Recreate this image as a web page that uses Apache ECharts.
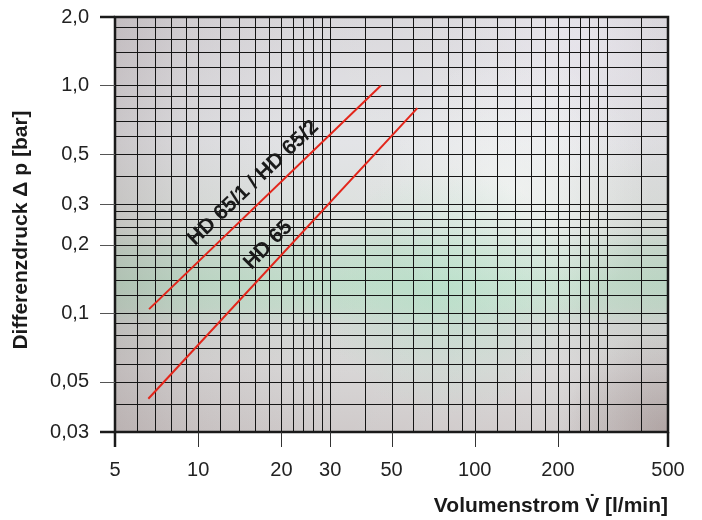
<!DOCTYPE html>
<html>
<head>
<meta charset="utf-8">
<script src="https://cdn.jsdelivr.net/npm/echarts@6/dist/echarts.min.js"></script>
<style>
  html, body { margin: 0; padding: 0; background: #ffffff; }
  #chart { width: 702px; height: 520px; }
</style>
</head>
<body>
<div id="chart"></div>
<script>
// ---------- data ----------
const xGrid = [5, 6, 7, 8, 9, 10, 12, 14, 16, 18, 20, 22, 24, 26, 28, 30, 40, 50, 60, 70, 80, 90,
               100, 120, 140, 160, 180, 200, 220, 240, 260, 280, 300, 400, 500];
const yGrid = [0.03, 0.04, 0.05, 0.06, 0.07, 0.08, 0.09, 0.1, 0.12, 0.14, 0.16, 0.18, 0.2,
               0.22, 0.24, 0.26, 0.28, 0.3, 0.4, 0.5, 0.6, 0.7, 0.8, 0.9, 1.0, 1.2, 1.4, 1.6, 1.8, 2.0];
const xTicks = [5, 10, 20, 30, 50, 100, 200, 500];
const xTickLabels = ['5', '10', '20', '30', '50', '100', '200', '500'];
const yTicks = [0.03, 0.05, 0.1, 0.2, 0.3, 0.5, 1.0, 2.0];
const yTickLabels = ['0,03', '0,05', '0,1', '0,2', '0,3', '0,5', '1,0', '2,0'];
const hd651 = [[6.64, 0.104], [45.8, 1.0]];
const hd65 = [[6.6, 0.042], [62, 0.795]];
const curveLabels = ['HD 65/1 / HD 65/2', 'HD 65'];
const curveLabelAnchors = [[15.8, 0.373], [17.9, 0.199]];
const xTitle = 'Volumenstrom V\u0307 [l/min]';
const yTitle = 'Differenzdruck \u0394 p [bar]';

const X_MIN = 5, X_MAX = 500, Y_MIN = 0.03, Y_MAX = 2.0;
const FONT = '"Liberation Sans", Arial, Helvetica, sans-serif';

// ---------- rendering ----------
const chart = echarts.init(document.getElementById('chart'), null, { renderer: 'canvas' });

function lin(x, y, x2, y2, stops) {
  return { type: 'linear', x: x, y: y, x2: x2, y2: y2,
           colorStops: stops.map(s => ({ offset: s[0], color: s[1] })) };
}
function rad(x, y, r, stops) {
  return { type: 'radial', x: x, y: y, r: r,
           colorStops: stops.map(s => ({ offset: s[0], color: s[1] })) };
}
const bgFills = [
  lin(0, 0, 0, 1, [[0, '#d8d6da'], [0.3, '#e2e3e6'], [0.5, '#dadfdb'], [0.56, '#c9dccf'],
                   [0.64, '#bfdcc9'], [0.7, '#c4dacb'], [0.74, '#d2d6d3'], [0.85, '#d6d4d4'], [1, '#cdc8c8']]),
  lin(0, 0, 1, 0, [[0, 'rgba(120,100,100,0.22)'], [0.15, 'rgba(120,100,100,0.07)'], [0.4, 'rgba(255,255,255,0.04)'],
                   [0.8, 'rgba(255,255,255,0.12)'], [1, 'rgba(120,100,100,0.06)']]),
  rad(1, 1, 0.25, [[0, 'rgba(130,108,106,0.35)'], [1, 'rgba(130,108,106,0)']]),
  rad(0.85, 0.05, 0.35, [[0, 'rgba(238,235,244,0.6)'], [1, 'rgba(238,235,244,0)']]),
  rad(0.72, 0.42, 0.33, [[0, 'rgba(250,252,250,0.55)'], [1, 'rgba(250,252,250,0)']]),
  rad(0.6, 0.66, 0.3, [[0, 'rgba(176,224,198,0.5)'], [1, 'rgba(176,224,198,0)']])
];

function crisp(v) { return Math.round(v) + 0.5; }

const option = {
  animation: false,
  grid: { left: 115, right: 34, top: 17, bottom: 88, show: false },
  xAxis: {
    type: 'log', logBase: 10, min: X_MIN, max: X_MAX,
    axisLine: { show: false }, axisTick: { show: false },
    axisLabel: { show: false }, splitLine: { show: false }
  },
  yAxis: {
    type: 'log', logBase: 10, min: Y_MIN, max: Y_MAX,
    axisLine: { show: false }, axisTick: { show: false },
    axisLabel: { show: false }, splitLine: { show: false }
  },
  graphic: [{
    type: 'text', x: 668, y: 506,
    style: { text: xTitle, font: 'bold 21px ' + FONT, fill: '#1a1a1a',
             align: 'right', verticalAlign: 'middle', textAlign: 'right', textVerticalAlign: 'middle' }
  }, {
    type: 'text', x: 21, y: 230, rotation: Math.PI / 2,
    style: { text: yTitle, font: 'bold 21px ' + FONT, fill: '#1a1a1a',
             align: 'center', verticalAlign: 'middle', textAlign: 'center', textVerticalAlign: 'middle' }
  }],
  series: [
    { // background texture
      type: 'custom', z: 0, silent: true,
      data: [[X_MIN, Y_MIN]],
      renderItem: function (params) {
        const cs = params.coordSys;
        return { type: 'group', children: bgFills.map(f => ({
          type: 'rect', shape: { x: cs.x, y: cs.y, width: cs.width, height: cs.height },
          style: { fill: f } })) };
      }
    },
    { // vertical grid lines
      type: 'custom', z: 1, silent: true,
      data: xGrid.map(v => [v, Y_MIN]),
      renderItem: function (params, api) {
        const a = api.coord([api.value(0), Y_MIN]);
        const b = api.coord([api.value(0), Y_MAX]);
        const x = crisp(a[0]);
        return { type: 'line', shape: { x1: x, y1: a[1], x2: x, y2: b[1] },
                 style: { stroke: '#151515', lineWidth: 1 } };
      }
    },
    { // horizontal grid lines
      type: 'custom', z: 1, silent: true,
      data: yGrid.map(v => [X_MIN, v]),
      renderItem: function (params, api) {
        const a = api.coord([X_MIN, api.value(1)]);
        const b = api.coord([X_MAX, api.value(1)]);
        const y = crisp(a[1]);
        return { type: 'line', shape: { x1: a[0], y1: y, x2: b[0], y2: y },
                 style: { stroke: '#151515', lineWidth: 1 } };
      }
    },
    {
      type: 'line', name: curveLabels[0], z: 5, data: hd651, showSymbol: false, symbol: 'none',
      lineStyle: { color: '#e3261b', width: 2 }
    },
    {
      type: 'line', name: curveLabels[1], z: 5, data: hd65, showSymbol: false, symbol: 'none',
      lineStyle: { color: '#e3261b', width: 2 }
    },
    { // curve labels
      type: 'custom', z: 6, silent: true,
      data: curveLabelAnchors,
      renderItem: function (params, api) {
        const p = api.coord([api.value(0), api.value(1)]);
        const rot = params.dataIndex === 0 ? 43.5 : 45.5;
        return { type: 'text', x: p[0], y: p[1], rotation: rot * Math.PI / 180,
                 style: { text: curveLabels[params.dataIndex], font: 'bold 21px ' + FONT, fill: '#1a1a1a',
                          align: 'center', verticalAlign: 'middle', textAlign: 'center', textVerticalAlign: 'middle' } };
      }
    },
    { // frame
      type: 'custom', z: 8, silent: true,
      data: [[X_MIN, Y_MIN]],
      renderItem: function (params) {
        const cs = params.coordSys;
        return { type: 'rect', shape: { x: cs.x, y: cs.y, width: cs.width, height: cs.height },
                 style: { fill: null, stroke: '#1a1a1a', lineWidth: 2.5 } };
      }
    },
    { // x ticks + labels
      type: 'custom', z: 8, silent: true,
      data: xTicks.map(v => [v, Y_MIN]),
      renderItem: function (params, api) {
        const i = params.dataIndex;
        const p = api.coord([api.value(0), Y_MIN]);
        const end = (i === 0 || i === xTicks.length - 1);
        const x = end ? p[0] : crisp(p[0]);
        return { type: 'group', children: [
          { type: 'line', shape: { x1: x, y1: p[1], x2: x, y2: p[1] + 15 },
            style: { stroke: end ? '#1a1a1a' : '#333', lineWidth: end ? 2.5 : 1 } },
          { type: 'text', x: p[0], y: p[1] + 38,
            style: { text: xTickLabels[i], font: '20px ' + FONT, fill: '#222',
                     align: 'center', verticalAlign: 'middle', textAlign: 'center', textVerticalAlign: 'middle' } }
        ] };
      }
    },
    { // y ticks + labels
      type: 'custom', z: 8, silent: true,
      data: yTicks.map(v => [X_MIN, v]),
      renderItem: function (params, api) {
        const i = params.dataIndex;
        const p = api.coord([X_MIN, api.value(1)]);
        const end = (i === 0 || i === yTicks.length - 1);
        const y = end ? p[1] : crisp(p[1]);
        return { type: 'group', children: [
          { type: 'line', shape: { x1: p[0] - 15, y1: y, x2: p[0], y2: y },
            style: { stroke: end ? '#1a1a1a' : '#555', lineWidth: end ? 2.5 : 1 } },
          { type: 'text', x: p[0] - 26, y: p[1],
            style: { text: yTickLabels[i], font: '20px ' + FONT, fill: '#222',
                     align: 'right', verticalAlign: 'middle', textAlign: 'right', textVerticalAlign: 'middle' } }
        ] };
      }
    }
  ]
};
chart.setOption(option);
</script>
</body>
</html>
